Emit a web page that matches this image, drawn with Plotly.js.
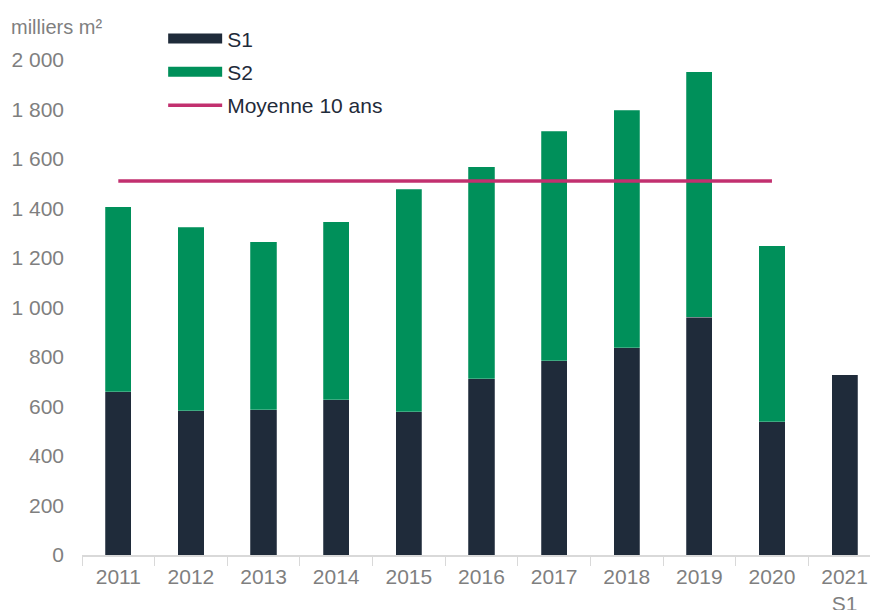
<!DOCTYPE html>
<html>
<head>
<meta charset="utf-8">
<script src="https://cdn.plot.ly/plotly-3.0.1.min.js"></script>
<style>html,body{margin:0;padding:0;background:#fff;}#chart{width:870px;height:610px;}</style>
</head>
<body>
<div id="chart"></div>
<script>
const categories = ["2011","2012","2013","2014","2015","2016","2017","2018","2019","2020","2021<br>S1"];
const s1Values = [660, 582, 586, 628, 578, 712, 785, 838, 960, 538, 728];
const s2Values = [748, 743, 679, 718, 900, 856, 928, 960, 993, 711, null];
const meanCategories = ["2011","2012","2013","2014","2015","2016","2017","2018","2019","2020"];
const meanValues = [1511, 1511, 1511, 1511, 1511, 1511, 1511, 1511, 1511, 1511];
const yTicks = [0, 200, 400, 600, 800, 1000, 1200, 1400, 1600, 1800, 2000];

const C1 = "#1f2b3a", C2 = "#00905a", CM = "#c2306f";

const traces = [
  {type:"bar", x:categories, y:s1Values, name:"S1", marker:{color:C1, line:{color:"rgba(255,255,255,0.4)", width:0.6}}, showlegend:false, hoverinfo:"y"},
  {type:"bar", x:categories, y:s2Values, name:"S2", marker:{color:C2, line:{color:"rgba(255,255,255,0.4)", width:0.6}}, showlegend:false, hoverinfo:"y"},
  {type:"scatter", mode:"lines", x:meanCategories, y:meanValues, name:"Moyenne 10 ans", line:{color:CM, width:3.5}, showlegend:false},
  {type:"scatter", mode:"lines", x:[null], y:[null], name:"S1", line:{color:C1, width:11}, legendgroup:"a"},
  {type:"scatter", mode:"lines", x:[null], y:[null], name:"S2", line:{color:C2, width:11}, legendgroup:"b"},
  {type:"scatter", mode:"lines", x:[null], y:[null], name:"Moyenne 10 ans", line:{color:CM, width:3.5}, legendgroup:"c"}
];

const layout = {
  width:870, height:610,
  margin:{l:82, r:0, t:60, b:55},
  paper_bgcolor:"#fff", plot_bgcolor:"#fff",
  barmode:"stack", bargap:0.64,
  separators:", ",
  font:{family:"Liberation Sans, Arial, sans-serif", color:"#7f7f7f", size:21},
  xaxis:{type:"category", range:[-0.5, 10.35], showgrid:false, zeroline:false,
    showline:true, linecolor:"#d9d9d9", linewidth:1.5,
    ticks:"outside", tickson:"boundaries", ticklen:9, tickcolor:"#d9d9d9", tickwidth:1,
    ticklabelstandoff:2,
    tickfont:{size:21, color:"#7f7f7f"}, fixedrange:true},
  yaxis:{range:[0, 2000], tickvals:yTicks, tickformat:",d", showgrid:false, zeroline:false,
    showline:false, ticks:"", ticklabelstandoff:17, tickfont:{size:21, color:"#7f7f7f"}, fixedrange:true},
  legend:{x:0.103, y:1.084, xanchor:"left", yanchor:"top", bgcolor:"rgba(0,0,0,0)",
    font:{size:21, color:"#1f2b3a"}, tracegroupgap:3, itemwidth:54},
  annotations:[{text:"milliers m²", xref:"paper", yref:"paper", x:-0.093, y:1.066, xanchor:"left", yanchor:"middle",
    showarrow:false, font:{size:20, color:"#7f7f7f"}}]
};

Plotly.newPlot("chart", traces, layout, {displayModeBar:false, staticPlot:true});
</script>
</body>
</html>
